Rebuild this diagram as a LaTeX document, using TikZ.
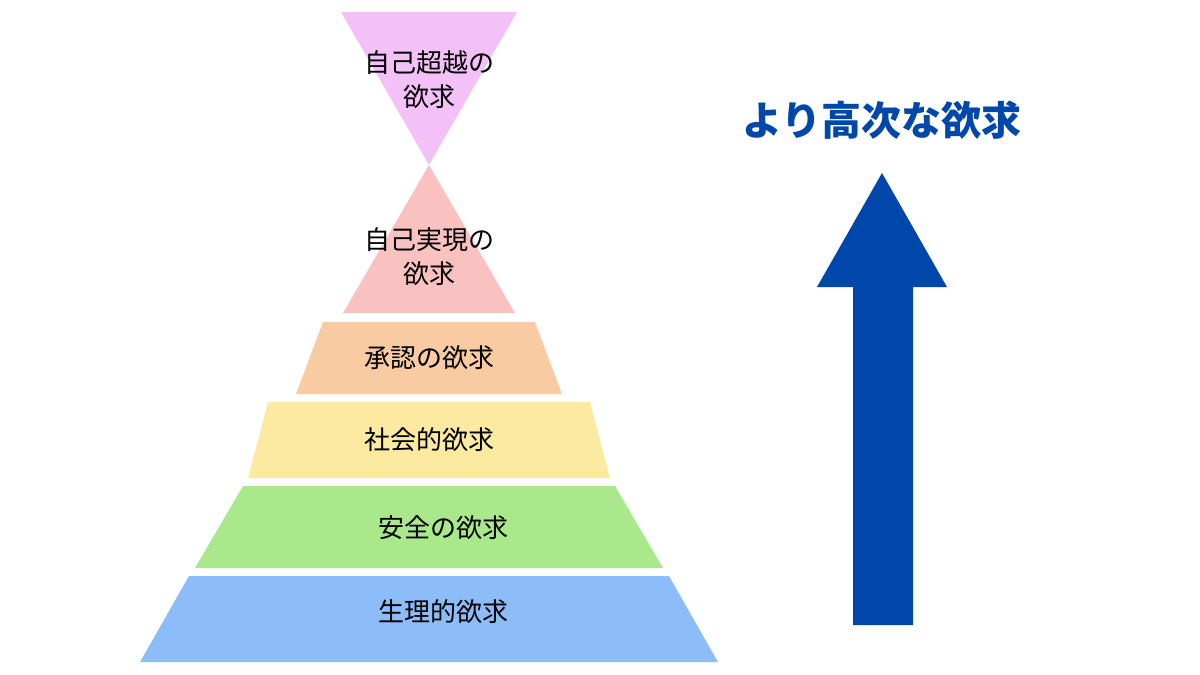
\documentclass[tikz,border=0pt]{standalone}
\usepackage{fontspec}
\newfontfamily\jpfont{Noto Sans CJK JP}
\begin{document}
\begin{tikzpicture}[x=1pt,y=-1pt]
    % Define styles
    \tikzset{label/.style={font=\jpfont\fontsize{26}{34}\selectfont, align=center, text=black}}
    \definecolor{cTop}{HTML}{F3C0F7}
    \definecolor{cPink}{HTML}{F9C1C0}
    \definecolor{cOrange}{HTML}{F9CBA3}
    \definecolor{cYellow}{HTML}{FBEAA0}
    \definecolor{cGreen}{HTML}{A9E88B}
    \definecolor{cBlue}{HTML}{8DBDF9}
    \definecolor{cArrow}{HTML}{0047AB}
    \useasboundingbox (0,0) rectangle (1200,675);

    % Inverted triangle on top
    \fill[cTop] (341,12) -- (517,12) -- (429,165) -- cycle;
    \node[label] (self_trans) at (429,80) {自己超越の\\欲求};

    % Pyramid levels
    \fill[cPink] (429,165) -- (515,313) -- (343,313) -- cycle;
    \fill[cOrange] (323,322) -- (535,322) -- (562,394) -- (296,394) -- cycle;
    \fill[cYellow] (268,402) -- (590,402) -- (610,478) -- (248,478) -- cycle;
    \fill[cGreen] (243,486) -- (615,486) -- (663,568) -- (195,568) -- cycle;
    \fill[cBlue] (189,576) -- (669,576) -- (718,662) -- (140,662) -- cycle;

    \node[label] (self_act) at (429,257) {自己実現の\\欲求};
    \node[label] (esteem) at (429,358) {承認の欲求};
    \node[label] (social) at (429,440) {社会的欲求};
    \node[label] (safety) at (443,528) {安全の欲求};
    \node[label] (physio) at (443,612) {生理的欲求};

    % Arrow and caption
    \fill[cArrow] (853,625) -- (853,287) -- (817,287) -- (882,173)
        -- (947,287) -- (913,287) -- (913,625) -- cycle;
    \node[font=\jpfont\bfseries\fontsize{40}{48}\selectfont, text=cArrow] (higher) at (882,120) {より高次な欲求};
\end{tikzpicture}
\end{document}
